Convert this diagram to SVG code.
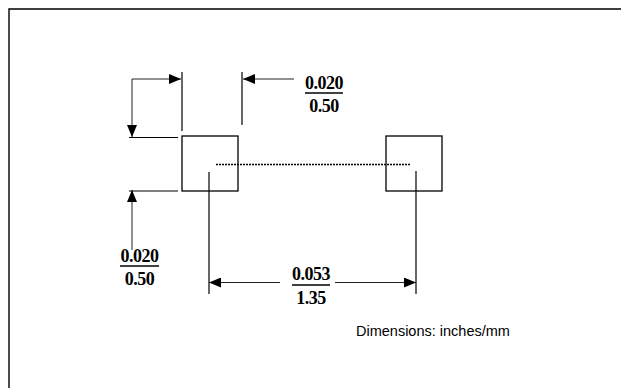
<svg xmlns="http://www.w3.org/2000/svg" width="621" height="388" viewBox="0 0 621 388">
<style>
.ln{stroke:#000;stroke-width:1.2;fill:none}
.dl{stroke:#222;stroke-width:1;fill:none}
.pad{stroke:#000;stroke-width:1.3;fill:#fff}
.ul{stroke:#000;stroke-width:1.5}
.dim{font-family:"Liberation Serif","Times New Roman",serif;font-weight:bold;font-size:18px;letter-spacing:-0.5px;fill:#000;text-anchor:middle}
.note{font-family:"Liberation Sans",Arial,sans-serif;font-size:14.5px;fill:#000}
</style>
<defs>
<marker id="ah" viewBox="0 0 12 10" refX="12" refY="5" markerWidth="12" markerHeight="10" markerUnits="userSpaceOnUse" orient="auto">
<path d="M0,0 L12,5 L0,10 Z" fill="#000"/>
</marker>
</defs>
<path d="M9,388 V9 H621" stroke="#000" stroke-width="1.4" fill="none"/>
<g id="pad1"><rect class="pad" x="182" y="136" width="56" height="55"/></g>
<g id="pad2"><rect class="pad" x="386" y="136" width="56" height="55"/></g>
<g id="connectors">
<line class="ln" x1="182" y1="72" x2="182" y2="131"/>
<line class="ln" x1="242" y1="72" x2="242" y2="125"/>
<line class="ln" x1="129" y1="137.5" x2="178" y2="137.5"/>
<line class="ln" x1="129" y1="191" x2="178" y2="191"/>
<line class="ln" x1="209" y1="172" x2="209" y2="294"/>
<line class="ln" x1="416" y1="171" x2="416" y2="294"/>
<line x1="216" y1="164.5" x2="410" y2="164.5" stroke="#000" stroke-width="1.5" stroke-dasharray="2,1"/>
<polyline class="dl" points="132,79 181,79" marker-end="url(#ah)"/>
<polyline class="dl" points="132,79 132,137" marker-end="url(#ah)"/>
<line class="dl" x1="294" y1="79" x2="243" y2="79" marker-end="url(#ah)"/>
<line class="dl" x1="132" y1="250" x2="132" y2="190" marker-end="url(#ah)"/>
<line class="dl" x1="280" y1="282.5" x2="209" y2="282.5" marker-end="url(#ah)"/>
<line class="dl" x1="335" y1="282.5" x2="416" y2="282.5" marker-end="url(#ah)"/>
</g>
<g id="label-top">
<text class="dim" x="324" y="89">0.020</text>
<line class="ul" x1="305" y1="93" x2="343" y2="93"/>
<text class="dim" x="324" y="112">0.50</text>
</g>
<g id="label-left">
<text class="dim" x="139.5" y="262">0.020</text>
<line class="ul" x1="120" y1="266" x2="159" y2="266"/>
<text class="dim" x="139.5" y="285">0.50</text>
</g>
<g id="label-bottom">
<text class="dim" x="311" y="280">0.053</text>
<line class="ul" x1="292" y1="285" x2="330" y2="285"/>
<text class="dim" x="311" y="304">1.35</text>
</g>
<text class="note" x="356" y="336">Dimensions: inches/mm</text>
</svg>
